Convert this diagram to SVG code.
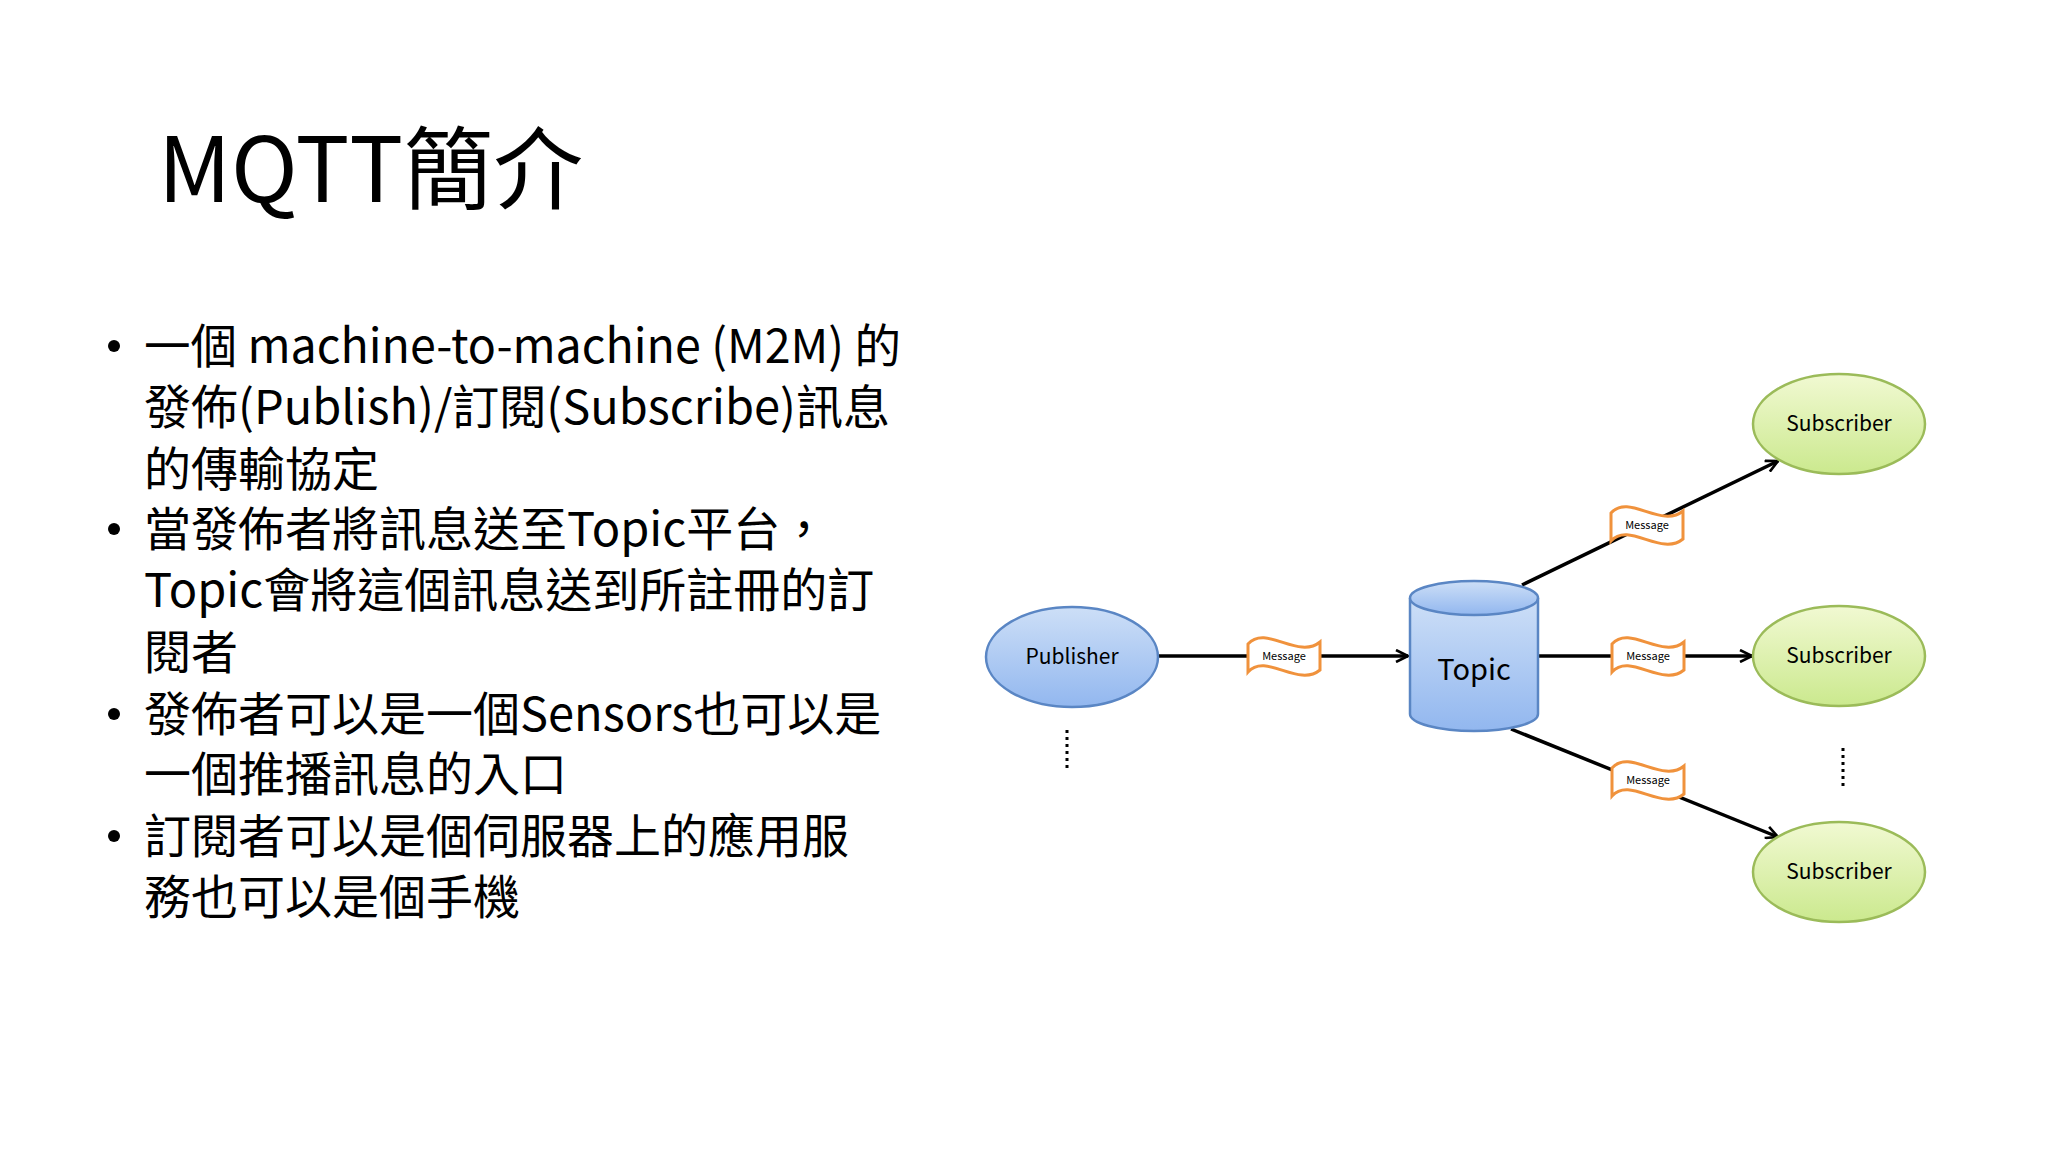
<svg xmlns="http://www.w3.org/2000/svg" width="2048" height="1152" viewBox="0 0 2048 1152">
<defs>
<linearGradient id="gb" x1="0" y1="0" x2="0" y2="1"><stop offset="0" stop-color="#cddff7"/><stop offset="1" stop-color="#92b7ef"/></linearGradient>
<linearGradient id="gg" x1="0" y1="0" x2="0" y2="1"><stop offset="0" stop-color="#f1f9d2"/><stop offset="1" stop-color="#cbe98e"/></linearGradient>
<marker id="ah" viewBox="0 0 14 14" refX="13" refY="7" markerWidth="14" markerHeight="14" markerUnits="userSpaceOnUse" orient="auto"><path d="M1,1 L13,7 L1,13" fill="none" stroke="#000" stroke-width="2.6"/></marker>
<path id="flag" d="M-36,-12 C-18,-32 14,4 36,-14 L36,14 C14,32 -18,-4 -36,16 Z"/>
</defs>
<style>
text{font-family:"Noto Sans CJK TC","Liberation Sans",sans-serif;fill:#000}
.b{font-size:47px}
.conn{stroke:#000;stroke-width:3.5;fill:none}
.blue{fill:url(#gb);stroke:#5a86c4;stroke-width:2.5}
.green{fill:url(#gg);stroke:#9bbb59;stroke-width:2.5}
.msg{fill:#fff;stroke:#f0923c;stroke-width:3}
.ml{font-size:11px;text-anchor:middle}
.nl{font-size:21px;text-anchor:middle}
.dot{stroke:#000;stroke-width:3;stroke-dasharray:3,4}
</style>
<rect width="2048" height="1152" fill="#fff"/>
<text x="158" y="202" font-size="90">MQTT簡介</text>
<g id="bullets">
<circle cx="114" cy="346" r="6"/><circle cx="114" cy="529" r="6"/><circle cx="114" cy="714" r="6"/><circle cx="114" cy="836" r="6"/>
<text x="144" y="363" class="b" textLength="757" lengthAdjust="spacingAndGlyphs">一個 machine-to-machine (M2M) 的</text>
<text x="144" y="424" class="b">發佈(Publish)/訂閱(Subscribe)訊息</text>
<text x="144" y="486" class="b">的傳輸協定</text>
<text x="144" y="546" class="b">當發佈者將訊息送至Topic平台，</text>
<text x="144" y="607" class="b">Topic會將這個訊息送到所註冊的訂</text>
<text x="144" y="669" class="b">閱者</text>
<text x="144" y="731" class="b">發佈者可以是一個Sensors也可以是</text>
<text x="144" y="791" class="b">一個推播訊息的入口</text>
<text x="144" y="853" class="b">訂閱者可以是個伺服器上的應用服</text>
<text x="144" y="914" class="b">務也可以是個手機</text>
</g>
<g id="connectors">
<line class="conn" x1="1158" y1="656" x2="1408" y2="656" marker-end="url(#ah)"/>
<line class="conn" x1="1522" y1="585" x2="1778" y2="461" marker-end="url(#ah)"/>
<line class="conn" x1="1539" y1="656" x2="1752" y2="656" marker-end="url(#ah)"/>
<line class="conn" x1="1511" y1="729" x2="1778" y2="837" marker-end="url(#ah)"/>
</g>
<g id="msg1"><use href="#flag" class="msg" transform="translate(1284,656)"/><text x="1284" y="660" class="ml">Message</text></g>
<g id="msg2"><use href="#flag" class="msg" transform="translate(1647,525)"/><text x="1647" y="529" class="ml">Message</text></g>
<g id="msg3"><use href="#flag" class="msg" transform="translate(1648,656)"/><text x="1648" y="660" class="ml">Message</text></g>
<g id="msg4"><use href="#flag" class="msg" transform="translate(1648,780)"/><text x="1648" y="784" class="ml">Message</text></g>
<g id="publisher"><ellipse class="blue" cx="1072" cy="657" rx="86" ry="50"/><text x="1072" y="664" class="nl">Publisher</text></g>
<g id="topic">
<path class="blue" d="M1410,598 L1410,714 A64,17 0 0 0 1538,714 L1538,598"/>
<ellipse class="blue" cx="1474" cy="598" rx="64" ry="17"/>
<text x="1474" y="680" font-size="29" text-anchor="middle">Topic</text>
</g>
<g id="sub1"><ellipse class="green" cx="1839" cy="424" rx="86" ry="50"/><text x="1839" y="431" class="nl">Subscriber</text></g>
<g id="sub2"><ellipse class="green" cx="1839" cy="656" rx="86" ry="50"/><text x="1839" y="663" class="nl">Subscriber</text></g>
<g id="sub3"><ellipse class="green" cx="1839" cy="872" rx="86" ry="50"/><text x="1839" y="879" class="nl">Subscriber</text></g>
<line class="dot" x1="1067" y1="730" x2="1067" y2="770"/>
<line class="dot" x1="1843" y1="748" x2="1843" y2="788"/>
</svg>
